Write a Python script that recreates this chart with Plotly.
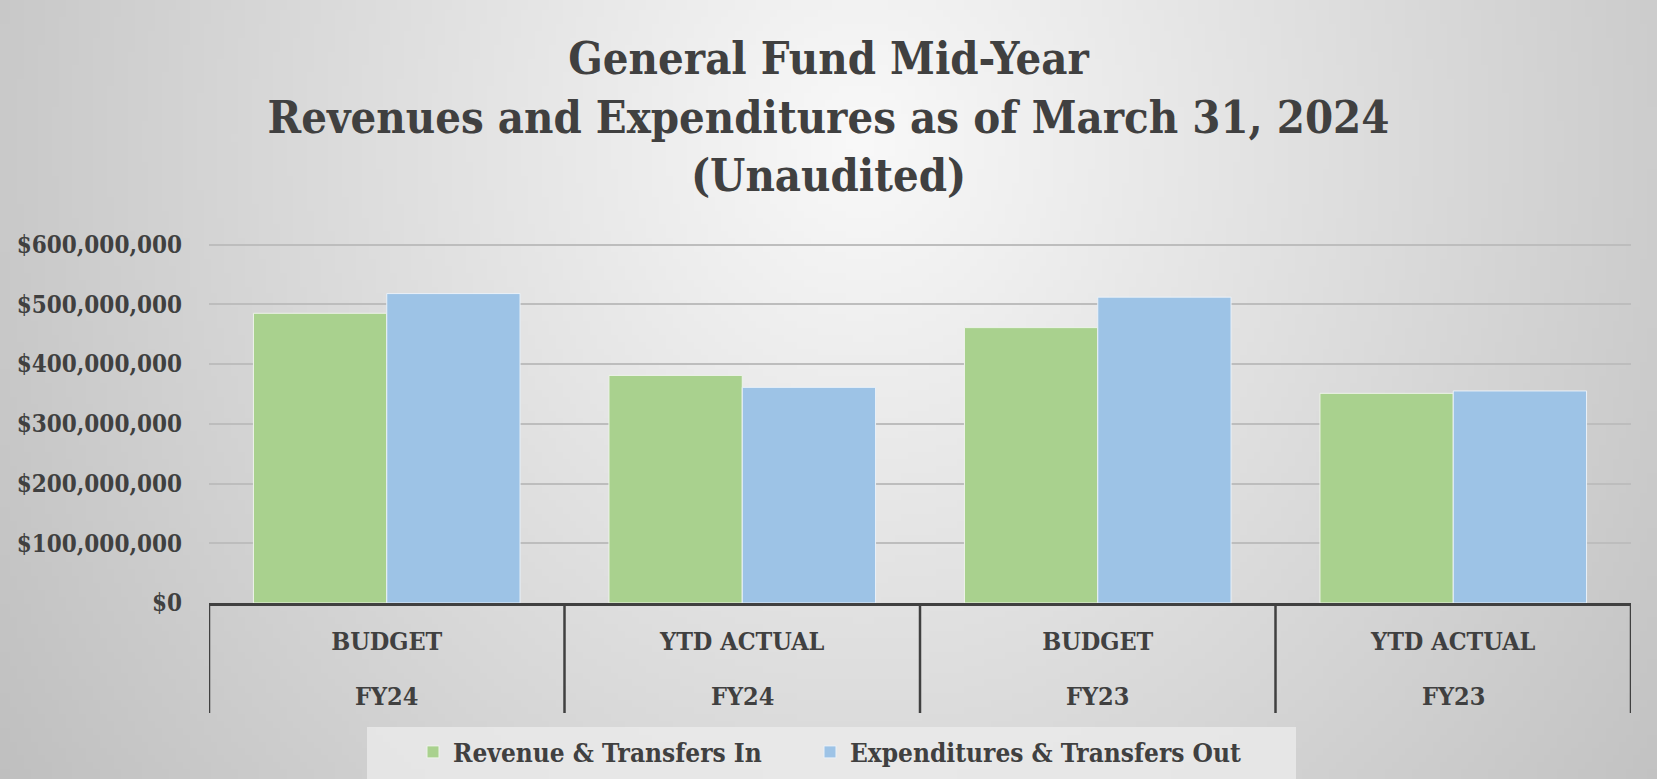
import base64, struct, zlib
import numpy as np
import plotly.graph_objects as go

# ---------------- data ----------------
categories = ["BUDGET|FY24", "YTD ACTUAL|FY24", "BUDGET|FY23", "YTD ACTUAL|FY23"]
cat_top = ["BUDGET", "YTD ACTUAL", "BUDGET", "YTD ACTUAL"]
cat_bottom = ["FY24", "FY24", "FY23", "FY23"]
revenue = [485_000_000, 381_000_000, 461_000_000, 351_000_000]
expenditures = [518_000_000, 361_000_000, 512_000_000, 355_000_000]
y_ticks = [0, 100_000_000, 200_000_000, 300_000_000, 400_000_000, 500_000_000, 600_000_000]

# ---------------- styles ----------------
W, H = 1657, 779
ML, MR, MT, MB = 209, 26, 241, 176
FONT = "Roboto Slab, DejaVu Serif Condensed, DejaVu Serif, serif"
TXT = "#404040"
GREEN = "#a9d18e"
BLUE = "#9dc3e6"


def gradient_png(w, h):
    xs = (np.arange(w) + 0.5) / w
    ys = (np.arange(h) + 0.5) / h
    X, Y = np.meshgrid(xs, ys)
    d = np.sqrt((X - 0.52) ** 2 + (0.42 * (Y - 0.18)) ** 2)
    img = np.clip(249 - 92 * d, 0, 255).astype(np.uint8)
    raw = b"".join(b"\x00" + img[r].tobytes() for r in range(h))

    def chunk(tag, data):
        c = struct.pack(">I", len(data)) + tag + data
        return c + struct.pack(">I", zlib.crc32(tag + data) & 0xFFFFFFFF)

    png = b"\x89PNG\r\n\x1a\n"
    png += chunk(b"IHDR", struct.pack(">IIBBBBB", w, h, 8, 0, 0, 0, 0))
    png += chunk(b"IDAT", zlib.compress(raw, 9))
    png += chunk(b"IEND", b"")
    return "data:image/png;base64," + base64.b64encode(png).decode()


pw = W - ML - MR
ph = H - MT - MB
y_top = 606_000_000
base_y = H - MB  # pixel row of the category axis

fig = go.Figure()
fig.add_trace(go.Bar(x=categories, y=revenue, name="Revenue & Transfers In", legend="legend",
                     marker=dict(color=GREEN, line=dict(color="#eef3ea", width=1))))
fig.add_trace(go.Bar(x=categories, y=expenditures, name="Expenditures & Transfers Out", legend="legend2",
                     marker=dict(color=BLUE, line=dict(color="#eaf1f8", width=1))))

# background gradient covering whole figure
fig.add_layout_image(dict(source=gradient_png(240, 113), xref="paper", yref="paper",
                          x=-ML / pw, y=1 + MT / ph, sizex=W / pw, sizey=H / ph,
                          sizing="stretch", layer="below", xanchor="left", yanchor="top"))

# category dividers and second-level labels
for i in range(len(categories) + 1):
    fig.add_shape(type="line", xref="x", yref="paper", x0=i - 0.5, x1=i - 0.5,
                  y0=0, y1=-110 / ph, line=dict(color=TXT, width=2.5))
for i, lab in enumerate(cat_bottom):
    fig.add_annotation(x=i, xref="x", y=-93 / ph, yref="paper", yanchor="middle",
                       text=lab, showarrow=False,
                       font=dict(family=FONT, size=25, color=TXT, weight="bold"))

# legend background box
fig.add_shape(type="rect", xref="paper", yref="paper",
              x0=(367 - ML) / pw, x1=(1296 - ML) / pw,
              y0=-(H - base_y) / ph - 0.01, y1=-(727 - base_y) / ph,
              fillcolor="rgba(236,236,236,0.75)", line=dict(width=0), layer="below")

legend_common = dict(orientation="h", xref="container", yref="container", xanchor="left",
                     y=1 - 752 / H, yanchor="middle", bgcolor="rgba(0,0,0,0)",
                     font=dict(family=FONT, size=26, color=TXT, weight="bold"), itemwidth=30)

fig.update_layout(
    width=W, height=H,
    margin=dict(l=ML, r=MR, t=MT, b=MB, pad=0, autoexpand=False),
    paper_bgcolor="#d8d8d8", plot_bgcolor="rgba(0,0,0,0)",
    barmode="group", bargap=0.25, bargroupgap=0,
    font=dict(family=FONT, color=TXT, weight="bold"),
    title=dict(text="General Fund Mid-Year<br>Revenues and Expenditures as of March 31, 2024<br>(Unaudited)",
               x=0.5, xanchor="center", xref="container", y=1 - 74 / H, yanchor="top", yref="container",
               font=dict(family=FONT, size=45, color=TXT, weight="bold")),
    xaxis=dict(type="category", tickvals=categories, ticktext=cat_top,
               tickfont=dict(family=FONT, size=25, color=TXT, weight="bold"),
               showline=True, linecolor=TXT, linewidth=3, ticks="", ticklabelstandoff=14,
               showgrid=False, range=[-0.5, len(categories) - 0.5]),
    yaxis=dict(range=[0, y_top], tickvals=y_ticks, tickformat="$,.0f",
               tickfont=dict(family=FONT, size=24, color=TXT, weight="bold"),
               showgrid=True, gridcolor="#bdbdbd", gridwidth=1.5, zeroline=False,
               showline=False, ticks="", ticklabelstandoff=26),
    legend=dict(legend_common, x=413 / W),
    legend2=dict(legend_common, x=810 / W),
    showlegend=True,
)

fig.write_html("out.html", config={"displayModeBar": False},
               post_script="document.body.style.margin='0';")
